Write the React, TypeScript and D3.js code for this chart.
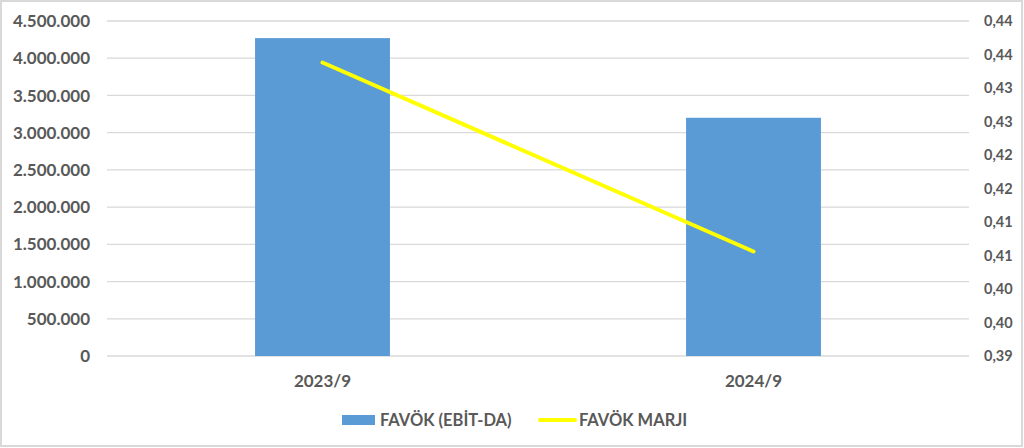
import { useEffect } from 'react';
import * as d3 from 'd3';

// values
const categories = ['2023/9', '2024/9'];
const ebitda = [4270000, 3200000];
const margin = [0.4338, 0.4056];
const leftTicks = [0, 500000, 1000000, 1500000, 2000000, 2500000, 3000000, 3500000, 4000000, 4500000];
const rightTicks = [0.39, 0.395, 0.4, 0.405, 0.41, 0.415, 0.42, 0.425, 0.43, 0.435, 0.44];
const seriesNames = ['FAVÖK (EBİT-DA)', 'FAVÖK MARJI'];

const W = 1024;
const H = 448;
const plot = { left: 107, right: 969, top: 21, bottom: 356 };
const textColor = '#595959';
const gridColor = '#d9d9d9';
const barColor = '#5b9bd5';
const lineColor = '#ffff00';
const font = 'Lato, "Open Sans", sans-serif';

const fmtLeft = (v: number) => d3.format(',')(v).replace(/,/g, '.');
// Excel rounds half up: 0.435 -> 0,44
const fmtRight = (v: number) => (Math.round(v * 100 + 1e-6) / 100).toFixed(2).replace('.', ',');

export default function App() {
  useEffect(() => {
    document.body.style.margin = '0';
  }, []);

  const x = d3.scaleBand<string>()
    .domain(categories)
    .range([plot.left, plot.right]);

  const yLeft = d3.scaleLinear()
    .domain([0, 4500000])
    .range([plot.bottom, plot.top]);

  const yRight = d3.scaleLinear()
    .domain([0.39, 0.44])
    .range([plot.bottom, plot.top]);

  const barW = x.bandwidth() * 0.313;
  const cx = (c: string) => (x(c) || 0) + x.bandwidth() / 2;

  const line = d3.line<number>()
    .x((_, i) => cx(categories[i]))
    .y(d => yRight(d));

  return (
    <svg width={W} height={H} style={{ display: 'block' }} fontFamily={font} fontWeight={700}>
      <rect x={0} y={0} width={W} height={H} fill="#fff" />
      <rect x={1} y={1} width={W - 3} height={H - 3} fill="none" stroke={gridColor} strokeWidth={2} />

      {/* grid */}
      {leftTicks.map(t => (
        <line key={t} x1={plot.left} x2={plot.right} y1={yLeft(t)} y2={yLeft(t)} stroke={gridColor} strokeWidth={1.3} />
      ))}

      {/* bars */}
      {categories.map((c, i) => (
        <rect key={c} x={cx(c) - barW / 2} y={yLeft(ebitda[i])} width={barW}
          height={yLeft(0) - yLeft(ebitda[i])} fill={barColor} />
      ))}

      {/* margin line */}
      <path d={line(margin) || ''} fill="none" stroke={lineColor} strokeWidth={4} strokeLinecap="round" />

      {/* left axis */}
      {leftTicks.map(t => (
        <text key={t} x={90} y={yLeft(t)} dy="0.36em" textAnchor="end" fontSize={17} fill={textColor}>
          {fmtLeft(t)}
        </text>
      ))}

      {/* right axis */}
      {rightTicks.map(t => (
        <text key={t} x={984} y={yRight(t)} dy="0.36em" textAnchor="start" fontSize={14.5} fill={textColor}>
          {fmtRight(t)}
        </text>
      ))}

      {/* categories */}
      {categories.map(c => (
        <text key={c} x={cx(c)} y={387} textAnchor="middle" fontSize={17} fill={textColor}>{c}</text>
      ))}

      {/* legend */}
      <rect x={342} y={415} width={33} height={10} fill={barColor} />
      <text x={380} y={426} fontSize={16.5} fill={textColor}>{seriesNames[0]}</text>
      <line x1={540} x2={575} y1={420} y2={420} stroke={lineColor} strokeWidth={4} strokeLinecap="round" />
      <text x={579} y={426} fontSize={16.5} fill={textColor}>{seriesNames[1]}</text>
    </svg>
  );
}
